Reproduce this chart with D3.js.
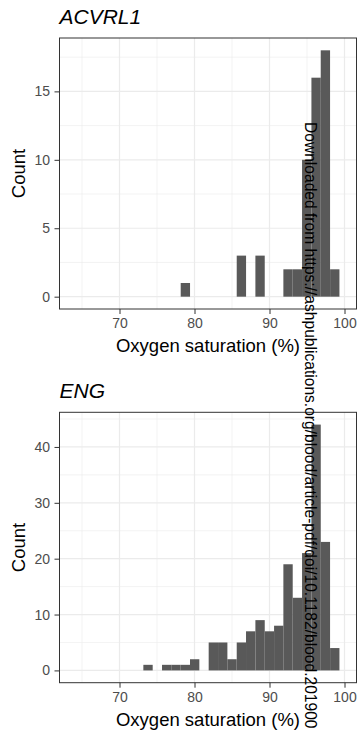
<!DOCTYPE html>
<html>
<head>
<meta charset="utf-8">
<script src="https://cdn.jsdelivr.net/npm/d3@7"></script>
<style>
  body { margin: 0; background: #fff; }
  svg { display: block; font-family: "Liberation Sans", Arial, Helvetica, sans-serif; }
</style>
</head>
<body>
<svg></svg>
<script>
// shared histogram bins (lower edge, % saturation)
let binWidth = 1.245

let acvrl1Bins = [78.16, 85.63, 88.12, 91.85, 93.10, 94.34, 95.59, 96.83, 98.08]
let acvrl1Counts = [1, 3, 3, 2, 2, 10, 16, 18, 2]

let engBins = [73.18, 75.67, 76.91, 78.16, 79.40, 81.89, 83.14, 84.38, 85.63, 86.87,
               88.12, 89.36, 90.61, 91.85, 93.10, 94.34, 95.59, 96.83, 98.08]
let engCounts = [1, 1, 1, 1, 2, 5, 5, 2, 5, 7, 9, 7, 8, 19, 13, 21, 44, 23, 4]

let xTicks = [70, 80, 90, 100]
let xMinor = [65, 75, 85, 95]
let acvrl1Ticks = [0, 5, 10, 15]
let acvrl1Minor = [2.5, 7.5, 12.5, 17.5]
let engTicks = [0, 10, 20, 30, 40]
let engMinor = [5, 15, 25, 35, 45]

let watermark = "Downloaded from https://ashpublications.org/blood/article-pdf/doi/10.1182/blood.201900"

let width = 359
let height = 740
let left = 59.5
let right = 356.5

let svg = d3.select('svg')
    .attr('width', width)
    .attr('height', height)

let xScale = d3.scaleLinear()
    .domain([62, 101.6])
    .range([left, right])

let drawPanel = (title, bins, counts, yDomain, top, bottom, ticks, minor) => {

    let yScale = d3.scaleLinear()
        .domain(yDomain)
        .range([bottom, top])

    let g = svg.append('g')

    // background grid
    g.selectAll('.xminor')
        .data(xMinor)
        .enter()
        .append('line')
        .attr('x1', d => xScale(d)).attr('x2', d => xScale(d))
        .attr('y1', top).attr('y2', bottom)
        .attr('stroke', '#ebebeb').attr('stroke-width', 0.6)

    g.selectAll('.yminor')
        .data(minor)
        .enter()
        .append('line')
        .attr('x1', left).attr('x2', right)
        .attr('y1', d => yScale(d)).attr('y2', d => yScale(d))
        .attr('stroke', '#ebebeb').attr('stroke-width', 0.6)

    g.selectAll('.xmajor')
        .data(xTicks)
        .enter()
        .append('line')
        .attr('x1', d => xScale(d)).attr('x2', d => xScale(d))
        .attr('y1', top).attr('y2', bottom)
        .attr('stroke', '#ebebeb').attr('stroke-width', 1.2)

    g.selectAll('.ymajor')
        .data(ticks)
        .enter()
        .append('line')
        .attr('x1', left).attr('x2', right)
        .attr('y1', d => yScale(d)).attr('y2', d => yScale(d))
        .attr('stroke', '#ebebeb').attr('stroke-width', 1.2)

    // bars
    g.selectAll('rect.bar')
        .data(bins)
        .enter()
        .append('rect')
        .attr('class', 'bar')
        .attr('x', d => xScale(d))
        .attr('width', d => xScale(d + binWidth) - xScale(d))
        .attr('y', (d, i) => yScale(counts[i]))
        .attr('height', (d, i) => yScale(0) - yScale(counts[i]))
        .attr('fill', '#595959')

    // panel border
    g.append('rect')
        .attr('x', left).attr('y', top)
        .attr('width', right - left).attr('height', bottom - top)
        .attr('fill', 'none').attr('stroke', '#333').attr('stroke-width', 1)

    // axes
    let xAxis = d3.axisBottom(xScale).tickValues(xTicks).tickSize(5).tickPadding(14)
    let yAxis = d3.axisLeft(yScale).tickValues(ticks).tickSize(5).tickPadding(4.5)

    let xg = g.append('g')
        .attr('transform', `translate(0, ${bottom})`)
        .call(xAxis)
    let yg = g.append('g')
        .attr('transform', `translate(${left}, 0)`)
        .call(yAxis)

    ;[xg, yg].forEach(a => {
        a.select('.domain').remove()
        a.selectAll('line').attr('stroke', '#333').attr('stroke-width', 1)
        a.selectAll('text')
            .attr('fill', '#4d4d4d')
            .style('font-size', '14px')
            .style('font-family', '"Liberation Sans", Arial, sans-serif')
    })
    xg.selectAll('text').attr('dy', null).attr('y', 19)

    // titles
    g.append('text')
        .attr('x', left).attr('y', top - 14)
        .attr('font-size', 21)
        .attr('font-style', 'italic')
        .attr('fill', '#000')
        .text(title)

    g.append('text')
        .attr('x', (left + right) / 2).attr('y', bottom + 43)
        .attr('text-anchor', 'middle')
        .attr('font-size', 18.5)
        .attr('fill', '#000')
        .text('Oxygen saturation (%)')

    g.append('text')
        .attr('transform', `translate(25, ${(top + bottom) / 2}) rotate(-90)`)
        .attr('text-anchor', 'middle')
        .attr('font-size', 18.5)
        .attr('fill', '#000')
        .text('Count')
}

drawPanel('ACVRL1', acvrl1Bins, acvrl1Counts, [-0.9, 18.9], 38, 309, acvrl1Ticks, acvrl1Minor)
drawPanel('ENG', engBins, engCounts, [-2.2, 46.2], 412.3, 682.7, engTicks, engMinor)

// vertical download stamp over the figure
svg.append('text')
    .attr('transform', 'translate(304.5, 122) rotate(90)')
    .attr('font-size', 15.6)
    .attr('fill', '#000')
    .text(watermark)
</script>
</body>
</html>
